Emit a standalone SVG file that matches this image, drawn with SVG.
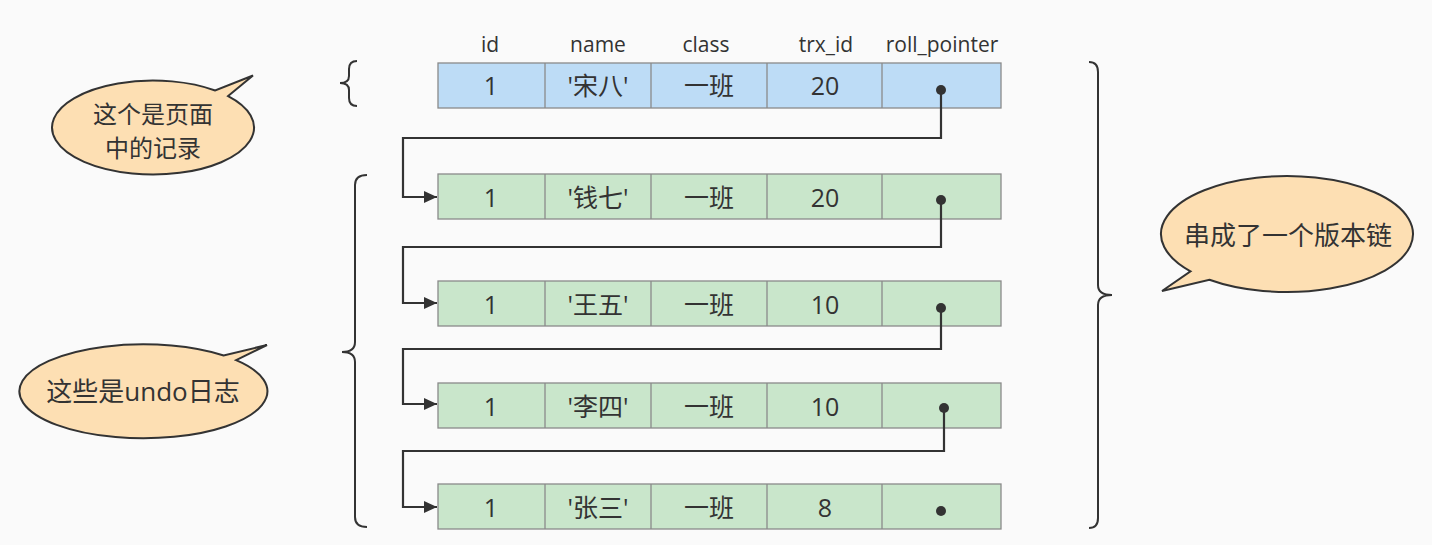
<svg xmlns="http://www.w3.org/2000/svg" width="1432" height="545" viewBox="0 0 1432 545">
<style>
  .bg{fill:#fafafa}
  text{font-family:"Open Sans","Noto Sans CJK SC",sans-serif;fill:#333;text-anchor:middle}
  .hdr{font-size:21px}
  .cell{font-size:25px}
  .blue{fill:#bddcf6;stroke:#8a8a8a;stroke-width:1.3}
  .green{fill:#c9e6cb;stroke:#8a8a8a;stroke-width:1.3}
  .bubble{fill:#fddfb3;stroke:#333;stroke-width:2}
  .btxt{font-size:26px}
  .btxt2{font-size:24px}
  .brace{fill:none;stroke:#333;stroke-width:2}
  .conn{fill:none;stroke:#333;stroke-width:2.2}
  .dot{fill:#333}
</style>
<defs>
  <marker id="arrow" markerUnits="userSpaceOnUse" markerWidth="14" markerHeight="12" refX="13" refY="6" orient="auto">
    <path d="M0,0 L13,6 L0,12 z" fill="#333"/>
  </marker>
  <g id="cols">
    <line x1="545" y1="0" x2="545" y2="45" stroke="#8a8a8a" stroke-width="1.3"/>
    <line x1="651" y1="0" x2="651" y2="45" stroke="#8a8a8a" stroke-width="1.3"/>
    <line x1="767" y1="0" x2="767" y2="45" stroke="#8a8a8a" stroke-width="1.3"/>
    <line x1="882" y1="0" x2="882" y2="45" stroke="#8a8a8a" stroke-width="1.3"/>
  </g>
</defs>
<rect class="bg" x="0" y="0" width="1432" height="545"/>

<g id="header">
  <text class="hdr" x="490" y="52">id</text>
  <text class="hdr" x="598" y="52">name</text>
  <text class="hdr" x="706" y="52">class</text>
  <text class="hdr" x="826" y="52">trx_id</text>
  <text class="hdr" x="942" y="52">roll_pointer</text>
</g>

<g id="row1">
  <rect class="blue" x="438" y="63" width="563" height="45"/>
  <use href="#cols" y="63"/>
  <text class="cell" x="491" y="95">1</text>
  <text class="cell" x="598" y="95">'宋八'</text>
  <text class="cell" x="709" y="95">一班</text>
  <text class="cell" x="825" y="95">20</text>
</g>
<g id="row2">
  <rect class="green" x="438" y="174" width="563" height="45"/>
  <use href="#cols" y="174"/>
  <text class="cell" x="491" y="207">1</text>
  <text class="cell" x="598" y="207">'钱七'</text>
  <text class="cell" x="709" y="207">一班</text>
  <text class="cell" x="825" y="207">20</text>
</g>
<g id="row3">
  <rect class="green" x="438" y="281" width="563" height="45"/>
  <use href="#cols" y="281"/>
  <text class="cell" x="491" y="314">1</text>
  <text class="cell" x="598" y="314">'王五'</text>
  <text class="cell" x="709" y="314">一班</text>
  <text class="cell" x="825" y="314">10</text>
</g>
<g id="row4">
  <rect class="green" x="438" y="383" width="563" height="45"/>
  <use href="#cols" y="383"/>
  <text class="cell" x="491" y="416">1</text>
  <text class="cell" x="598" y="416">'李四'</text>
  <text class="cell" x="709" y="416">一班</text>
  <text class="cell" x="825" y="416">10</text>
</g>
<g id="row5">
  <rect class="green" x="438" y="484" width="563" height="45"/>
  <use href="#cols" y="484"/>
  <text class="cell" x="491" y="517">1</text>
  <text class="cell" x="598" y="517">'张三'</text>
  <text class="cell" x="709" y="517">一班</text>
  <text class="cell" x="825" y="517">8</text>
  <circle class="dot" cx="941" cy="511" r="5"/>
</g>

<g id="connectors">
  <path class="conn" d="M941,90 V138 H403 V197 H437" marker-end="url(#arrow)"/>
  <path class="conn" d="M941,200 V247 H403 V303 H437" marker-end="url(#arrow)"/>
  <path class="conn" d="M941,308 V349 H403 V404 H437" marker-end="url(#arrow)"/>
  <path class="conn" d="M944,408 V451 H403 V507 H437" marker-end="url(#arrow)"/>
  <circle class="dot" cx="941" cy="90" r="5"/>
  <circle class="dot" cx="941" cy="200" r="5"/>
  <circle class="dot" cx="941" cy="308" r="5"/>
  <circle class="dot" cx="944" cy="408" r="5"/>
</g>

<g id="brace-page">
  <path class="brace" d="M357,61 q-8,0 -8,8 V76 q0,7 -9,7 q9,0 9,7 V98 q0,8 8,8"/>
</g>
<g id="brace-undo">
  <path class="brace" d="M367,175 q-12,0 -12,10 V342 q0,10 -13,10 q13,0 13,10 V517 q0,10 12,10"/>
</g>
<g id="brace-chain">
  <path class="brace" d="M1089,62 q9,0 9,10 V285 q0,10 14,10 q-14,0 -14,10 V518 q0,10 -9,10"/>
</g>

<g id="callout-page">
  <path class="bubble" d="M253,75 L215.2,90 A101,47 0 1 0 228.1,95.6 Z" transform="translate(0,0.5)"/>
  <text class="btxt2" x="153" y="123">这个是页面</text>
  <text class="btxt2" x="153" y="157">中的记录</text>
</g>
<g id="callout-undo">
  <path class="bubble" d="M267,345 L223.7,355.5 A124,47 0 1 0 236.1,360.1 Z"/>
  <text class="btxt" x="143" y="401">这些是undo日志</text>
</g>
<g id="callout-chain">
  <path class="bubble" d="M1162,291 L1190.5,271.3 A126,58 0 1 1 1209.4,279.7 Z"/>
  <text class="btxt" x="1288" y="245">串成了一个版本链</text>
</g>
</svg>
